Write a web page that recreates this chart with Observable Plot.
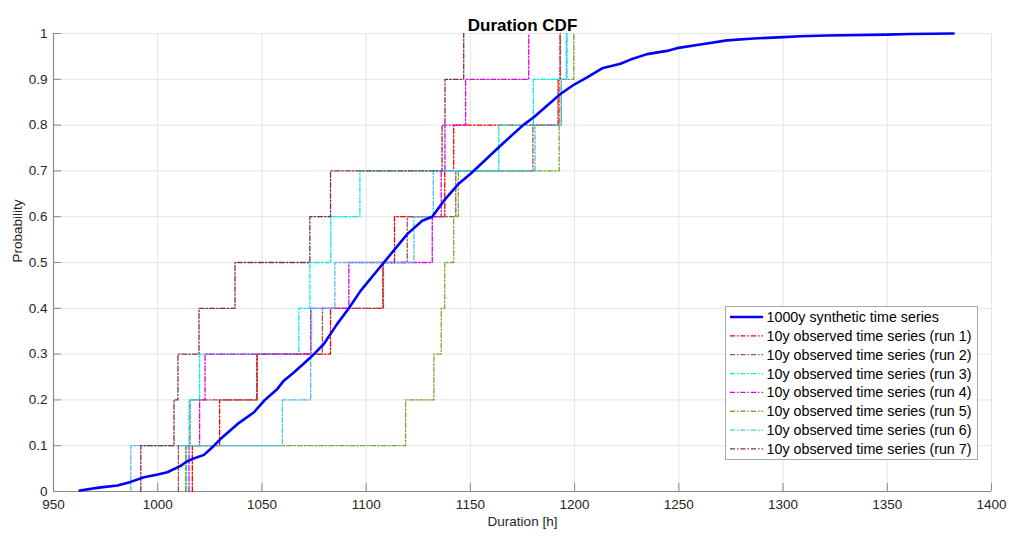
<!DOCTYPE html>
<html><head><meta charset="utf-8">
<script src="https://cdn.jsdelivr.net/npm/d3@7"></script>
<script src="https://cdn.jsdelivr.net/npm/@observablehq/plot@0.6"></script>
<style>
body{margin:0;background:#fff;}
#wrap{position:relative;width:1009px;height:536px;font-family:"Liberation Sans",Arial,sans-serif;}
#legend{position:absolute;left:725px;top:306px;}
</style></head><body><div id="wrap"></div>
<script>
const titleText = "Duration CDF";
const xLabel = "Duration [h]";
const yLabel = "Probability";
const xTicks = [950, 1000, 1050, 1100, 1150, 1200, 1250, 1300, 1350, 1400];
const yTicks = [0, 0.1, 0.2, 0.3, 0.4, 0.5, 0.6, 0.7, 0.8, 0.9, 1];

const synthDuration = [962.6, 972.7, 980.7, 987, 993.4, 1000, 1004.6, 1011, 1013.4, 1016.6, 1022.2, 1027, 1030.2, 1038.2, 1046.2, 1051, 1057.4, 1060.5, 1065.3, 1073.4, 1079.7, 1086.1, 1091.7, 1097.3, 1108.5, 1119.7, 1126.9, 1131.7, 1137.3, 1144.4, 1150.9, 1164.4, 1175.6, 1180.4, 1193.2, 1199.6, 1206, 1213.2, 1222, 1226.8, 1234.8, 1244.3, 1249.1, 1260.3, 1273.1, 1285.9, 1300.2, 1308.2, 1321, 1349.8, 1361, 1381.8];
const synthProb = [0.002, 0.009, 0.013, 0.021, 0.031, 0.037, 0.042, 0.056, 0.064, 0.071, 0.080, 0.100, 0.115, 0.147, 0.173, 0.198, 0.224, 0.242, 0.26, 0.293, 0.322, 0.366, 0.40, 0.438, 0.50, 0.562, 0.591, 0.60, 0.635, 0.672, 0.697, 0.755, 0.801, 0.817, 0.868, 0.888, 0.904, 0.924, 0.934, 0.943, 0.955, 0.962, 0.968, 0.976, 0.985, 0.989, 0.992, 0.994, 0.9955, 0.9976, 0.999, 1.0];

// 10y observed runs: sorted durations [h]
const run1 = [1016.6, 1029.7, 1047.5, 1082.9, 1108.0, 1113.6, 1137.7, 1142.0, 1192.5, 1193.0];
const run2 = [1009.9, 1015.5, 1047.8, 1079.0, 1108.3, 1119.7, 1143.0, 1180.0, 1192.0, 1193.2];
const run3 = [1013.8, 1015.0, 1020.1, 1067.7, 1073.0, 1083.0, 1097.0, 1163.6, 1180.2, 1196.4];
const run4 = [1015.0, 1020.1, 1022.7, 1073.4, 1091.7, 1131.7, 1136.0, 1137.8, 1147.7, 1178.0];
const run5 = [1013.4, 1118.9, 1132.5, 1136.0, 1137.7, 1142.0, 1144.2, 1192.6, 1193.6, 1199.6];
const run6 = [987.1, 1059.8, 1073.4, 1073.8, 1085.0, 1122.9, 1132.2, 1181.0, 1193.6, 1196.0];
const run7 = [991.9, 1007.8, 1009.7, 1019.8, 1037.1, 1073.0, 1082.9, 1136.4, 1137.8, 1146.8];

const synthName = "1000y synthetic time series";
const runNames = ["10y observed time series (run 1)", "10y observed time series (run 2)", "10y observed time series (run 3)", "10y observed time series (run 4)", "10y observed time series (run 5)", "10y observed time series (run 6)", "10y observed time series (run 7)"];
const runColors = ["#ff0000", "#a0524d", "#00f0f0", "#e000e0", "#77ac30", "#4dbeee", "#7e2f4e"];
const synthColor = "#0000ff";
const runs = [run1, run2, run3, run4, run5, run6, run7];

const FONT = '"Liberation Sans", Arial, sans-serif';
const DASH = "5,2,1.5,2";

function ecdf(vals) {
  const n = vals.length;
  const pts = [{x: vals[0], y: 0}];
  vals.forEach((v, i) => pts.push({x: v, y: (i + 1) / n}));
  return pts;
}
const synthPts = synthDuration.map((d, i) => ({x: d, y: synthProb[i]}));

const runMarks = runs.map((r, i) => Plot.line(ecdf(r), {x: "x", y: "y", curve: "step-after", stroke: runColors[i], strokeWidth: 1.3, strokeDasharray: DASH}));

const chart = Plot.plot({
  width: 1009, height: 536,
  marginLeft: 53, marginRight: 18, marginTop: 33, marginBottom: 45,
  style: {fontFamily: FONT, fontSize: "13.5px", color: "#262626", background: "#fff"},
  x: {domain: [950, 1400]},
  y: {domain: [0, 1]},
  marks: [
    Plot.gridX(xTicks, {stroke: "#e4e4e4", strokeOpacity: 1}),
    Plot.gridY(yTicks, {stroke: "#e4e4e4", strokeOpacity: 1}),
    Plot.axisX(xTicks, {tickSize: 0, tickPadding: 8, fontSize: 13.5, label: null, fill: "#262626", tickFormat: d => String(d)}),
    Plot.axisY(yTicks, {tickSize: 0, tickPadding: 6, fontSize: 13.5, label: null, fill: "#262626", tickFormat: d => String(+d.toFixed(1))}),
    Plot.ruleX(xTicks, {insetTop: 450, stroke: "#8a8a8a"}),
    Plot.ruleY(yTicks, {insetRight: 930, stroke: "#8a8a8a"}),
    Plot.ruleX([950], {stroke: "#8a8a8a", strokeWidth: 1.2}),
    Plot.ruleY([0], {stroke: "#8a8a8a", strokeWidth: 1.2}),
    ...runMarks,
    Plot.line(synthPts, {x: "x", y: "y", stroke: synthColor, strokeWidth: 2.6}),
    Plot.text([titleText], {frameAnchor: "top", dy: -14.5, fontSize: 17, fontWeight: "bold", fill: "#000"}),
    Plot.text([xLabel], {frameAnchor: "bottom", dy: 34, fontSize: 13.5, fill: "#262626"}),
    Plot.text([yLabel], {frameAnchor: "left", dx: -36, rotate: -90, fontSize: 13.5, fill: "#262626"})
  ]
});
const wrap = document.getElementById("wrap");
wrap.appendChild(chart);

// legend
const entries = [{name: synthName, color: synthColor, w: 2.6, dash: null}].concat(runNames.map((n, i) => ({name: n, color: runColors[i], w: 1.3, dash: DASH})));
const lw = 252, lh = 153;
const leg = d3.select(wrap).append("svg").attr("id", "legend").attr("width", lw + 1).attr("height", lh + 1);
leg.append("rect").attr("x", 0.5).attr("y", 0.5).attr("width", lw).attr("height", lh).attr("fill", "#fff").attr("stroke", "#a8a8a8");
entries.forEach((e, i) => {
  const cy = 11 + i * 18.85;
  leg.append("line").attr("x1", 5).attr("x2", 38).attr("y1", cy).attr("y2", cy).attr("stroke", e.color).attr("stroke-width", e.w).attr("stroke-dasharray", e.dash);
  leg.append("text").attr("x", 41.5).attr("y", cy).attr("dy", "0.35em").attr("font-family", FONT).attr("font-size", "14.3px").attr("fill", "#000").text(e.name);
});
</script></body></html>
